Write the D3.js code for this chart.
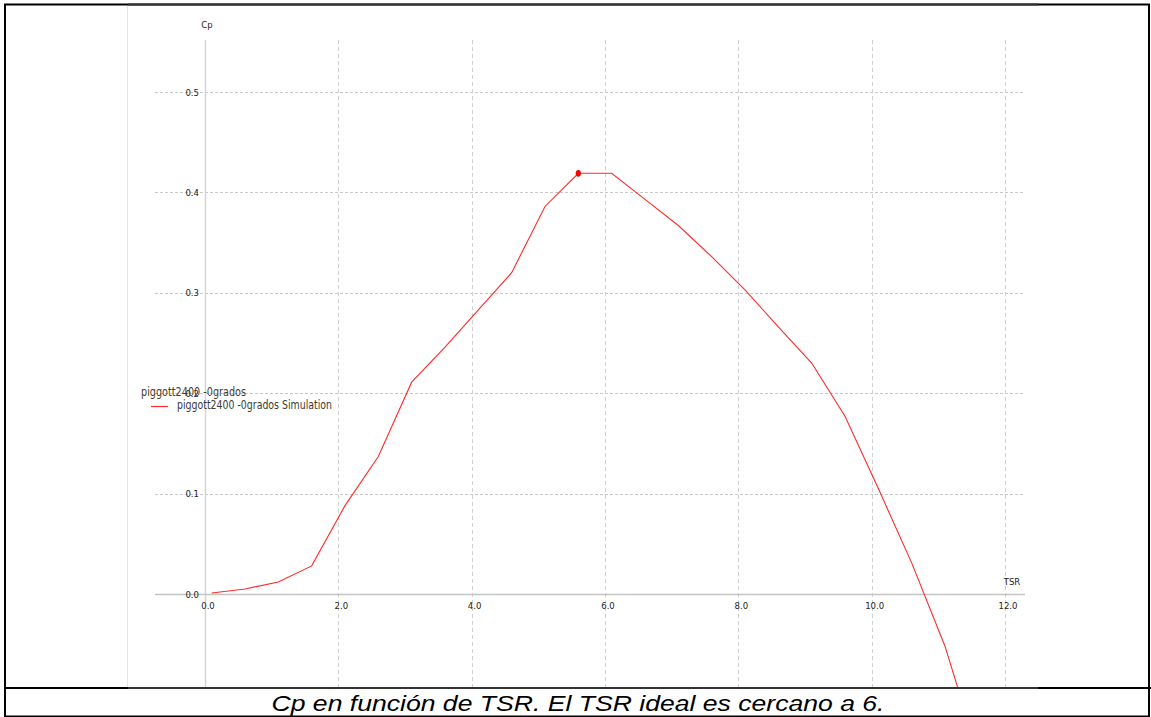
<!DOCTYPE html>
<html>
<head>
<meta charset="utf-8">
<script src="https://cdn.jsdelivr.net/npm/d3@7"></script>
<style>
  html, body { margin: 0; padding: 0; background: #fff; }
  svg { display: block; }
</style>
</head>
<body>
<svg id="chart" width="1151" height="717"></svg>
<script>
// ---- data ----
const tsr = [0.1, 0.6, 1.1, 1.6, 2.1, 2.6, 3.1, 3.6, 4.1, 4.6, 5.1, 5.6, 6.1, 6.6, 7.1, 7.6, 8.1, 8.6, 9.1, 9.6, 10.1, 10.6, 11.1, 11.6];
const cp  = [0.001, 0.005, 0.012, 0.028, 0.088, 0.137, 0.211, 0.246, 0.283, 0.320, 0.386, 0.419, 0.419, 0.393, 0.367, 0.336, 0.303, 0.266, 0.230, 0.177, 0.105, 0.031, -0.052, -0.160];
const xTicks = [0, 2, 4, 6, 8, 10, 12];
const yTicks = [0, 0.1, 0.2, 0.3, 0.4, 0.5];
const xAxisTitle = "TSR";
const yAxisTitle = "Cp";
const legendTitle = "piggott2400 -0grados";
const seriesName = "piggott2400 -0grados Simulation";
const caption = "Cp en función de TSR. El TSR ideal es cercano a 6.";

const svg = d3.select("#chart");
const W = 1151, H = 717;

const x = d3.scaleLinear().domain([0, 12]).range([205, 1005]);
const y = d3.scaleLinear().domain([0, 0.5]).range([594, 92]);

const plotLeft = 155, plotRight = 1025, plotTop = 40, plotBottom = 687;
const fmt = d3.format(".1f");
const tickFont = "'DejaVu Sans Condensed', 'Liberation Sans Narrow', 'DejaVu Sans', sans-serif";

// screenshot left edge
svg.append("line").attr("x1", 127.5).attr("x2", 127.5).attr("y1", 5).attr("y2", 687)
  .attr("stroke", "#e4e4e4").attr("stroke-width", 1);

svg.append("defs").append("clipPath").attr("id", "clip")
  .append("rect").attr("x", 127).attr("y", 5).attr("width", 911).attr("height", 682);

// horizontal gridlines
svg.append("g").selectAll("line").data(yTicks.filter(d => d !== 0)).join("line")
  .attr("x1", plotLeft).attr("x2", plotRight)
  .attr("y1", d => Math.round(y(d)) + 0.5).attr("y2", d => Math.round(y(d)) + 0.5)
  .attr("stroke", "#c8c8c8").attr("stroke-dasharray", "3,2");

// vertical gridlines
svg.append("g").selectAll("line").data(xTicks.filter(d => d !== 0)).join("line")
  .attr("x1", d => Math.round(x(d)) + 0.5).attr("x2", d => Math.round(x(d)) + 0.5)
  .attr("y1", plotTop).attr("y2", plotBottom)
  .attr("stroke", "#d0d0d0").attr("stroke-dasharray", "4,3");

// axes lines
svg.append("line").attr("x1", Math.round(x(0)) + 0.5).attr("x2", Math.round(x(0)) + 0.5)
  .attr("y1", plotTop).attr("y2", plotBottom).attr("stroke", "#d4d4d4").attr("stroke-width", 1.5);
svg.append("line").attr("x1", plotLeft).attr("x2", plotRight)
  .attr("y1", Math.round(y(0)) + 0.5).attr("y2", Math.round(y(0)) + 0.5)
  .attr("stroke", "#c4c4c4").attr("stroke-width", 1.5);

// y tick labels
svg.append("g").selectAll("text").data(yTicks).join("text")
  .attr("x", 199).attr("y", d => y(d) + 3.5)
  .attr("text-anchor", "end")
  .attr("font-family", tickFont).attr("font-size", 9.5).attr("fill", "#222")
  .text(d => fmt(d));

// x tick labels
svg.append("g").selectAll("text").data(xTicks).join("text")
  .attr("x", d => x(d) + 3).attr("y", 609)
  .attr("text-anchor", "middle")
  .attr("font-family", tickFont).attr("font-size", 9.5).attr("fill", "#222")
  .text(d => fmt(d));

// axis titles
svg.append("text").attr("x", 207).attr("y", 28).attr("text-anchor", "middle")
  .attr("font-family", tickFont).attr("font-size", 9.5).attr("fill", "#222").text(yAxisTitle);
svg.append("text").attr("x", 1012).attr("y", 585).attr("text-anchor", "middle")
  .attr("font-family", tickFont).attr("font-size", 9.5).attr("fill", "#222").text(xAxisTitle);

// series line
const pts = tsr.map((t, i) => ({ t, c: cp[i] }));
const line = d3.line().x(d => x(d.t)).y(d => y(d.c));
svg.append("path").datum(pts).attr("d", line).attr("clip-path", "url(#clip)")
  .attr("fill", "none").attr("stroke", "#ff2a2a").attr("stroke-width", 1.1);

// max marker
const maxPt = pts.reduce((a, b) => (b.c > a.c ? b : a));
svg.append("ellipse").attr("cx", x(maxPt.t)).attr("cy", y(maxPt.c))
  .attr("rx", 2.6).attr("ry", 3.4).attr("fill", "#ff0000");

// legend
const legFont = "'DejaVu Sans', 'Liberation Sans', sans-serif";
svg.append("text").attr("x", 141).attr("y", 396)
  .attr("font-family", legFont).attr("font-size", 12.5).attr("fill", "#4a3a2a")
  .attr("textLength", 105).attr("lengthAdjust", "spacingAndGlyphs")
  .text(legendTitle);
svg.append("line").attr("x1", 151).attr("x2", 168).attr("y1", 406.5).attr("y2", 406.5)
  .attr("stroke", "#ff2a2a").attr("stroke-width", 1.2);
svg.append("text").attr("x", 177).attr("y", 409)
  .attr("font-family", legFont).attr("font-size", 12.5).attr("fill", "#3a3a3a")
  .attr("textLength", 155).attr("lengthAdjust", "spacingAndGlyphs")
  .text(seriesName);

// borders
svg.append("rect").attr("x", 5).attr("y", 4.5).attr("width", W - 7).attr("height", H - 5)
  .attr("fill", "none").attr("stroke", "#000").attr("stroke-width", 2);
svg.append("line").attr("x1", 5).attr("x2", W).attr("y1", 688).attr("y2", 688)
  .attr("stroke", "#000").attr("stroke-width", 2);
// screenshot edges (slightly gray)
svg.append("line").attr("x1", 128).attr("x2", 1038).attr("y1", 688).attr("y2", 688)
  .attr("stroke", "#333").attr("stroke-width", 2);
svg.append("line").attr("x1", 128).attr("x2", 1038).attr("y1", 4.5).attr("y2", 4.5)
  .attr("stroke", "#333").attr("stroke-width", 2);

// caption
svg.append("text").attr("x", 578).attr("y", 711).attr("text-anchor", "middle")
  .attr("font-family", "'Liberation Sans', Arial, sans-serif").attr("font-style", "italic")
  .attr("font-size", 22).attr("fill", "#000")
  .attr("textLength", 613).attr("lengthAdjust", "spacingAndGlyphs")
  .text(caption);
</script>
</body>
</html>
